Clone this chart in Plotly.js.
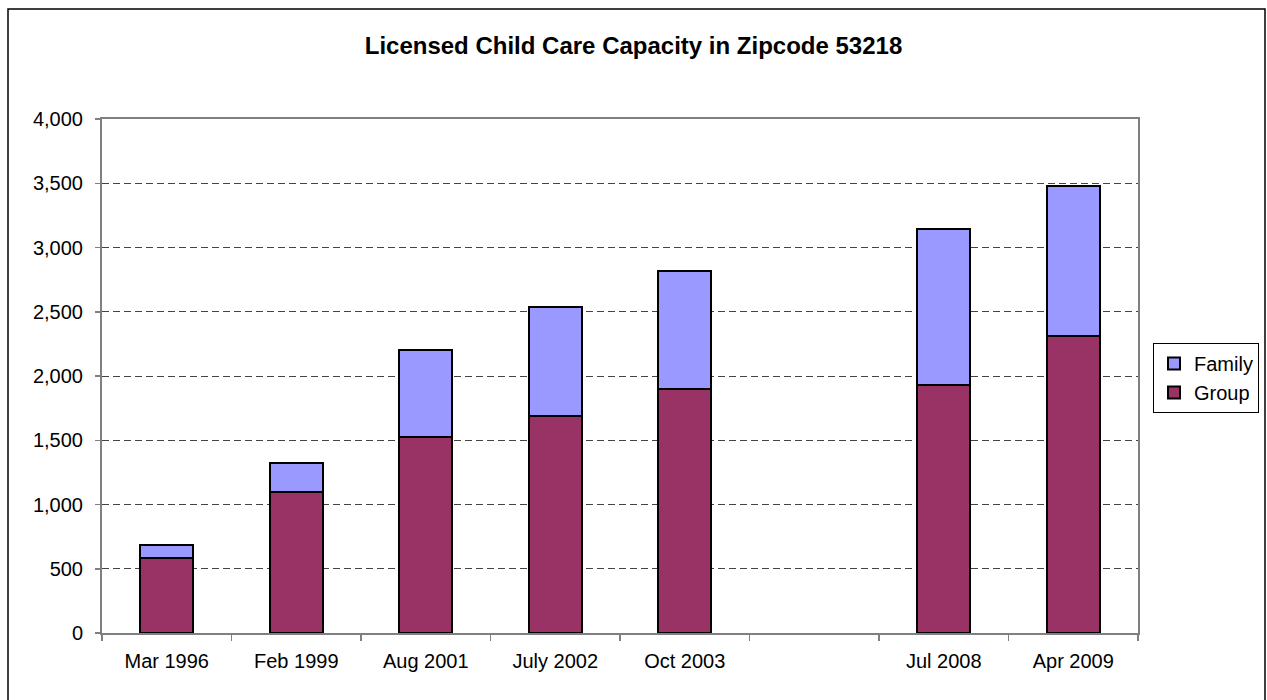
<!DOCTYPE html>
<html>
<head>
<meta charset="utf-8">
<script src="https://cdn.plot.ly/plotly-3.0.1.min.js"></script>
<style>html,body{margin:0;padding:0;background:#fff;}#chart{width:1267px;height:700px;}</style>
</head>
<body>
<div id="chart"></div>
<script>
const categories = ['Mar 1996', 'Feb 1999', 'Aug 2001', 'July 2002', 'Oct 2003', ' ', 'Jul 2008', 'Apr 2009'];
const groupValues = [584, 1100, 1523, 1690, 1897, null, 1928, 2308];
const familyValues = [101, 224, 683, 846, 919, null, 1213, 1170];
const yTickValues = [0, 500, 1000, 1500, 2000, 2500, 3000, 3500, 4000];

const FONT = 'Arial, "Liberation Sans", sans-serif';

const traces = [
  {
    type: 'bar', name: 'Group', x: categories, y: groupValues,
    width: 0.41,
    marker: {color: '#993366', line: {color: '#000000', width: 2}},
    hoverinfo: 'skip'
  },
  {
    type: 'bar', name: 'Family', x: categories, y: familyValues,
    width: 0.41,
    marker: {color: '#9999FF', line: {color: '#000000', width: 2}},
    hoverinfo: 'skip'
  }
];

const layout = {
  width: 1267, height: 700,
  margin: {l: 102, r: 129, t: 119, b: 67, pad: 0, autoexpand: false},
  paper_bgcolor: '#ffffff', plot_bgcolor: '#ffffff',
  barmode: 'stack',
  font: {family: FONT, size: 20, color: '#000'},
  title: {
    text: '<b>Licensed Child Care Capacity in Zipcode 53218</b>',
    font: {family: FONT, size: 24, color: '#000'},
    x: 0.5, xref: 'container', xanchor: 'center',
    y: 1 - 46 / 700, yref: 'container', yanchor: 'middle'
  },
  xaxis: {
    type: 'category',
    tickson: 'boundaries',
    ticks: 'outside', ticklen: 6, tickcolor: '#808080', tickwidth: 1.5,
    showline: true, linecolor: '#808080', linewidth: 2,
    mirror: true,
    showgrid: false, zeroline: false,
    tickfont: {family: FONT, size: 20, color: '#000'},
    ticklabelstandoff: 9,
    automargin: false,
    fixedrange: true
  },
  yaxis: {
    range: [0, 4000],
    tickvals: yTickValues,
    tickformat: ',',
    ticks: 'outside', ticklen: 5, tickcolor: '#808080', tickwidth: 1.5,
    showline: true, linecolor: '#808080', linewidth: 2,
    mirror: true,
    showgrid: true, gridcolor: '#444444', gridwidth: 1, griddash: '7px,4px',
    zeroline: false,
    tickfont: {family: FONT, size: 20, color: '#000'},
    ticklabelstandoff: 8,
    automargin: false,
    fixedrange: true
  },
  legend: {
    x: 1.0, xanchor: 'left',
    y: (633 - 343) / 514, yanchor: 'top',
    traceorder: 'reversed',
    bordercolor: '#000000', borderwidth: 1,
    bgcolor: '#ffffff',
    font: {family: FONT, size: 20, color: '#000'},
    itemwidth: 30,
    tracegroupgap: 0
  },
  shapes: [
    {
      type: 'rect', xref: 'paper', yref: 'paper',
      x0: (8 - 102) / 1036, x1: (1265 - 102) / 1036,
      y0: (633 - 720) / 514, y1: (633 - 9) / 514,
      line: {color: '#000000', width: 1.5},
      fillcolor: 'rgba(0,0,0,0)', layer: 'below'
    }
  ],
  showlegend: true
};

Plotly.newPlot('chart', traces, layout, {displayModeBar: false, staticPlot: true}).then(function (gd) {
  // align legend box right edge to x=1258 px
  var bg = gd.querySelector('.legend .bg');
  var leg = gd.querySelector('.legend');
  if (bg && leg) {
    var w = parseFloat(bg.getAttribute('width'));
    var tr = leg.getAttribute('transform');
    var m = /translate\(([-\d.]+)[ ,]+([-\d.]+)\)/.exec(tr);
    if (m) {
      var y = parseFloat(m[2]);
      leg.setAttribute('transform', 'translate(' + (1258 - w) + ',' + y + ')');
    }
  }
});
</script>
</body>
</html>
